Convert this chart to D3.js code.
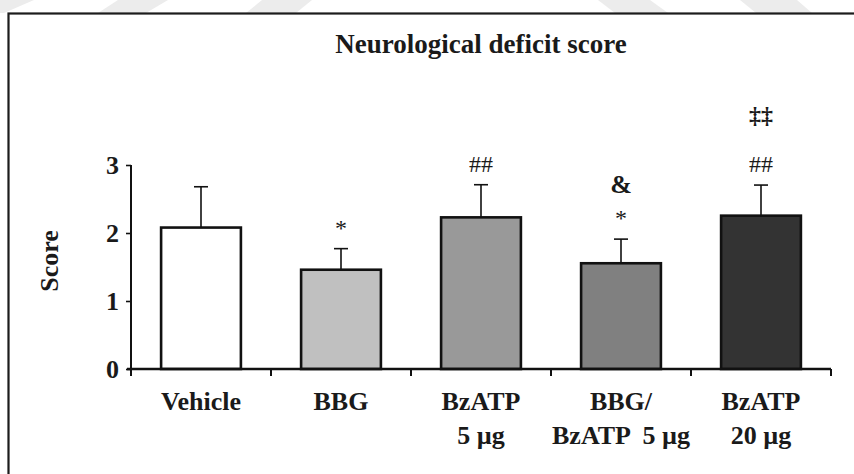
<!DOCTYPE html>
<html>
<head>
<meta charset="utf-8">
<script src="https://cdn.jsdelivr.net/npm/d3@7"></script>
<style>
  html, body { margin: 0; padding: 0; background: #fff; }
  svg { display: block; }
  text { font-family: "Liberation Serif", "Times New Roman", serif; fill: #1a1a1a; }
</style>
</head>
<body>
<svg id="chart" width="854" height="474"></svg>
<script>
// Neurological deficit score — bar chart with upward SD bars + significance marks
const groups   = ['Vehicle', 'BBG', 'BzATP 5 µg', 'BBG/BzATP 5 µg', 'BzATP 20 µg'];
const labels   = [['Vehicle'], ['BBG'], ['BzATP', '5 µg'], ['BBG/', 'BzATP  5 µg'], ['BzATP', '20 µg']];
const means    = [2.08, 1.46, 2.23, 1.555, 2.255];
const sds      = [0.60, 0.31, 0.48, 0.355, 0.45];
const fills    = ['#ffffff', '#c0c0c0', '#999999', '#808080', '#333333'];
const sigLower = ['', '*', '##', '*', '##'];
const sigUpper = ['', '', '', '&', '‡‡'];
const yTicks   = [0, 1, 2, 3];

const W = 854, H = 474;
const svg = d3.select('#chart');

// faint watermark bands above the frame
const wm = svg.append('g').attr('fill', '#ececec');
[[0, 34, -6, 4], [118, 168, 98, 146], [262, 312, 246, 296], [598, 650, 615, 668], [740, 797, 756, 812]]
  .forEach(([a, b, c, d]) => {
    wm.append('path').attr('d', `M${a},0L${b},0L${d},13L${c},13Z`);
  });

// outer frame (runs off the right and bottom edge)
svg.append('rect')
  .attr('x', 8.5).attr('y', 13.5).attr('width', W).attr('height', H)
  .attr('fill', '#fff').attr('stroke', '#1c1c1c').attr('stroke-width', 2.2);

const x = d3.scaleBand().domain(groups).range([131, 831])
  .paddingInner(0.43).paddingOuter(0.215);
const y = d3.scaleLinear().domain([0, 3]).range([369, 165]);

const g = svg.append('g');

// title
g.append('text')
  .attr('x', (x.range()[0] + x.range()[1]) / 2).attr('y', 53)
  .attr('text-anchor', 'middle').attr('font-size', 27).attr('font-weight', 700)
  .text('Neurological deficit score');

// error bars (upward only)
const capW = 14;
const eb = g.append('g').attr('stroke', '#111').attr('stroke-width', 1.6).attr('fill', 'none');
groups.forEach((grp, i) => {
  const cx = x(grp) + x.bandwidth() / 2;
  eb.append('line').attr('x1', cx).attr('x2', cx).attr('y1', y(means[i])).attr('y2', y(means[i] + sds[i]));
  eb.append('line').attr('x1', cx - capW / 2).attr('x2', cx + capW / 2)
    .attr('y1', y(means[i] + sds[i])).attr('y2', y(means[i] + sds[i]));
});

// bars
g.append('g').selectAll('rect').data(groups).join('rect')
  .attr('x', d => x(d)).attr('width', x.bandwidth())
  .attr('y', (d, i) => y(means[i])).attr('height', (d, i) => y(0) - y(means[i]))
  .attr('fill', (d, i) => fills[i])
  .attr('stroke', '#111').attr('stroke-width', 2.6);

// y axis
const yAxis = g.append('g').attr('transform', `translate(${x.range()[0]},0)`)
  .call(d3.axisLeft(y).tickValues(yTicks).tickFormat(d3.format('d')).tickSize(5).tickPadding(7));
yAxis.select('.domain').attr('d', `M0,${y(3)}V${y(0)}`).attr('stroke', '#111').attr('stroke-width', 2);
yAxis.selectAll('.tick line').attr('stroke', '#111').attr('stroke-width', 1.6);
yAxis.selectAll('.tick text')
  .attr('font-family', '"Liberation Serif", serif').attr('font-size', 26).attr('font-weight', 700)
  .attr('fill', '#1a1a1a');

// x axis: line with ticks at band boundaries
const bounds = [x.range()[0]].concat(groups.map(d => x(d) + x.step() - x.step() * x.paddingOuter()))
  .map((v, i) => x.range()[0] + i * x.step());
const xa = g.append('g').attr('transform', `translate(0,${y(0)})`);
xa.append('line').attr('x1', x.range()[0] - 4).attr('x2', x.range()[1])
  .attr('stroke', '#111').attr('stroke-width', 2.6);
xa.selectAll('.xt').data(bounds).join('line').attr('class', 'xt')
  .attr('x1', d => d).attr('x2', d => d).attr('y1', 0).attr('y2', 7)
  .attr('stroke', '#111').attr('stroke-width', 2);

// category labels
groups.forEach((grp, i) => {
  const t = g.append('text')
    .attr('x', x(grp) + x.bandwidth() / 2).attr('y', 410)
    .attr('text-anchor', 'middle').attr('font-size', 26).attr('font-weight', 700);
  labels[i].forEach((line, j) => {
    t.append('tspan').attr('x', x(grp) + x.bandwidth() / 2).attr('dy', j === 0 ? 0 : 34)
      .style('white-space', 'pre').text(line);
  });
});

// y axis title
g.append('text')
  .attr('transform', 'translate(58,261) rotate(-90)')
  .attr('text-anchor', 'middle').attr('font-size', 26).attr('font-weight', 700)
  .text('Score');

// significance marks
groups.forEach((grp, i) => {
  const cx = x(grp) + x.bandwidth() / 2;
  const top = y(means[i] + sds[i]);
  const low = sigLower[i];
  if (low) {
    const isStar = low === '*';
    g.append('text').attr('x', cx)
      .attr('y', isStar ? top - 13 : top - 13)
      .attr('text-anchor', 'middle')
      .attr('font-size', isStar ? 24 : 24)
      .text(low);
  }
  const up = sigUpper[i];
  if (up) {
    const gap = up === '&' ? 46 : 62;
    g.append('text').attr('x', cx).attr('y', top - gap)
      .attr('text-anchor', 'middle').attr('font-size', up === '&' ? 26 : 24).attr('font-weight', 700)
      .text(up);
  }
});
</script>
</body>
</html>
